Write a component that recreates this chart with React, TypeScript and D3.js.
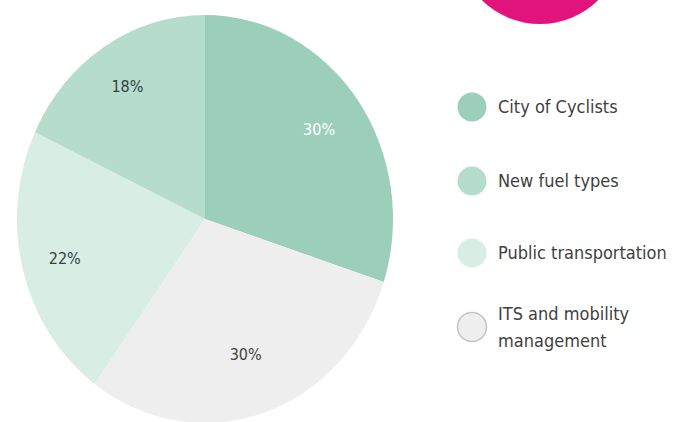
import React from "react";
import * as d3 from "d3";

const categories = ["City of Cyclists", "ITS and mobility management", "Public transportation", "New fuel types"];
const values = [30, 30, 22, 18];
const labels = ["30%", "30%", "22%", "18%"];
const colors = ["#9ccfb9", "#eeeeee", "#d8ede4", "#b6dccb"];
const labelColors = ["#ffffff", "#444444", "#34423d", "#34423d"];

const legendItems = ["City of Cyclists", "New fuel types", "Public transportation", "ITS and mobility management"];
const legendLines = [["City of Cyclists"], ["New fuel types"], ["Public transportation"], ["ITS and mobility", "management"]];
const legendColors = ["#9ccfb9", "#b6dccb", "#d8ede4", "#eeeeee"];

export default function App() {
  const W = 674, H = 422;
  const cx = 205, cy = 219, ry = 204, rx = 188;
  const pie = d3.pie<number>().sort(null).value((d) => d)(values);
  const arc = d3.arc<d3.PieArcDatum<number>>().innerRadius(0).outerRadius(ry);
  const font = "'DejaVu Sans Condensed', 'Liberation Sans Narrow', 'DejaVu Sans', sans-serif";
  const legendY = [107, 181, 253, 327];
  const labelRadius = [0.75, 0.7, 0.77, 0.77];
  return (
    <svg width={W} height={H} style={{ position: "absolute", left: 0, top: 0, background: "#fff" }}>
      <circle cx={540} cy={-59} r={83} fill="#e1147e" />
      <g transform={`translate(${cx},${cy}) scale(${rx / ry},1)`}>
        {pie.map((p, i) => (
          <path key={i} d={arc(p) || ""} fill={colors[i]} />
        ))}
      </g>
      {pie.map((p, i) => {
        const a = (p.startAngle + p.endAngle) / 2;
        const f = labelRadius[i];
        const x = cx + Math.sin(a) * rx * f;
        const y = cy - Math.cos(a) * ry * f;
        return (
          <text key={i} x={x} y={y} dy="0.35em" textAnchor="middle" fontFamily={font} fontSize={16} fill={labelColors[i]}>
            {labels[i]}
          </text>
        );
      })}
      {legendItems.map((name, i) => (
        <g key={name}>
          <circle cx={472} cy={legendY[i]} r={14.5} fill={legendColors[i]} stroke={i === 3 ? "#c4c4c4" : "none"} strokeWidth={1.5} />
          {legendLines[i].map((line, j) => (
            <text key={j} x={498} y={legendY[i] + (legendLines[i].length > 1 ? (j - 0.5) * 27 : 0)} dy="0.35em"
              fontFamily={font} fontSize={18} fill="#3f3f3f">
              {line}
            </text>
          ))}
        </g>
      ))}
    </svg>
  );
}
